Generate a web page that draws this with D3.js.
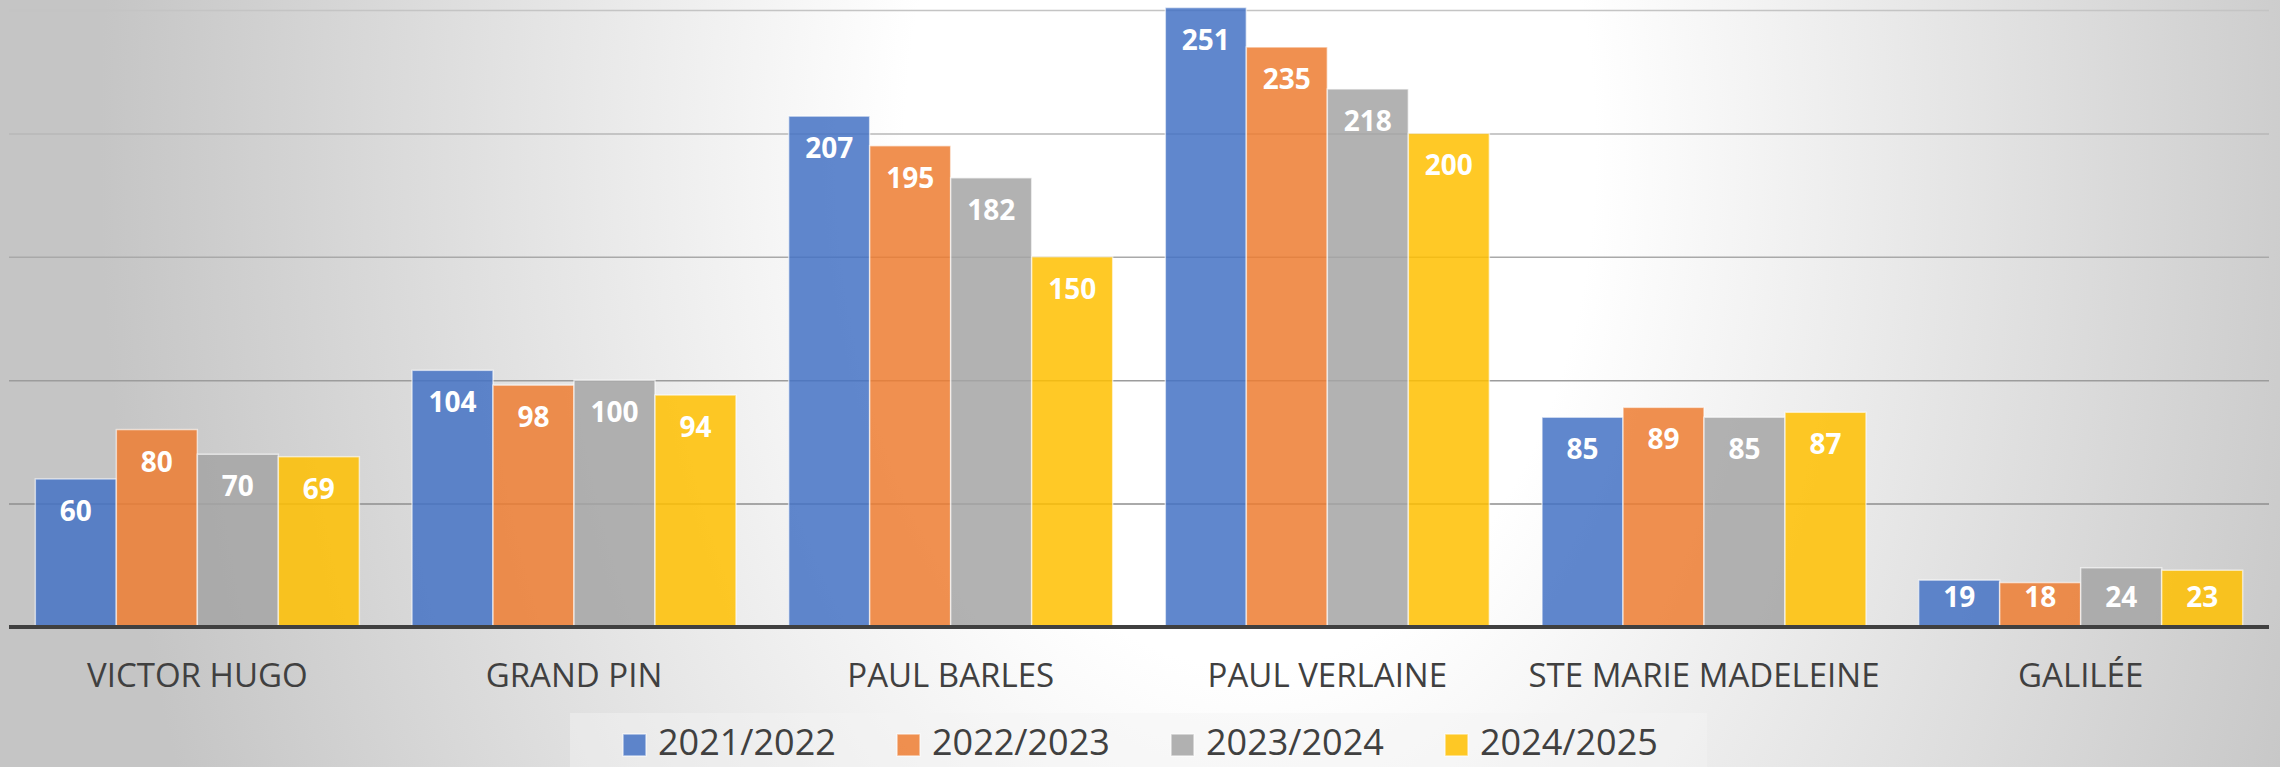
<!DOCTYPE html>
<html>
<head>
<meta charset="utf-8">
<script src="https://cdn.jsdelivr.net/npm/d3@7"></script>
<style>
  body { margin: 0; overflow: hidden; }
  text { font-family: "Open Sans", "Noto Sans", sans-serif; }
</style>
</head>
<body>
<div id="wrapper"></div>
<script>
const categories = ["VICTOR HUGO", "GRAND PIN", "PAUL BARLES", "PAUL VERLAINE", "STE MARIE MADELEINE", "GALILÉE"];
const seriesNames = ["2021/2022", "2022/2023", "2023/2024", "2024/2025"];
const values2122 = [60, 104, 207, 251, 85, 19];
const values2223 = [80, 98, 195, 235, 89, 18];
const values2324 = [70, 100, 182, 218, 85, 24];
const values2425 = [69, 94, 150, 200, 87, 23];
const gridTicks = [50, 100, 150, 200, 250];
const seriesColors = ["#4472C4", "#ED7D31", "#A5A5A5", "#FFC000"];

const seriesValues = [values2122, values2223, values2324, values2425];
const dataset = categories.map((c, i) => ({
  category: c,
  bars: seriesNames.map((s, j) => ({ series: s, value: seriesValues[j][i] }))
}));

function drawChart() {
  let dimensions = {
    width: 2280,
    height: 767,
    margin: { top: 10, right: 11, bottom: 140, left: 9 }
  };
  dimensions.boundedWidth = dimensions.width - dimensions.margin.left - dimensions.margin.right;
  dimensions.boundedHeight = dimensions.height - dimensions.margin.top - dimensions.margin.bottom;

  const wrapper = d3.select("#wrapper")
    .append("svg")
    .attr("width", dimensions.width)
    .attr("height", dimensions.height);

  // background: soft radial light
  const defs = wrapper.append("defs");
  const grad = defs.append("radialGradient")
    .attr("id", "bg")
    .attr("gradientUnits", "userSpaceOnUse")
    .attr("cx", 1250).attr("cy", 150).attr("r", 1150)
    .attr("gradientTransform", "translate(1250,150) scale(1,1.5) translate(-1250,-150)");
  grad.append("stop").attr("offset", "0").attr("stop-color", "#ffffff");
  grad.append("stop").attr("offset", "0.3").attr("stop-color", "#ffffff");
  grad.append("stop").attr("offset", "1").attr("stop-color", "#c5c5c5");
  wrapper.append("rect")
    .attr("width", dimensions.width)
    .attr("height", dimensions.height)
    .attr("fill", "url(#bg)");

  const bounds = wrapper.append("g")
    .attr("transform", `translate(${dimensions.margin.left},${dimensions.margin.top})`);

  const yScale = d3.scaleLinear()
    .domain([0, 250])
    .range([dimensions.boundedHeight, 0]);
  const x0 = d3.scaleBand()
    .domain(categories)
    .range([0, dimensions.boundedWidth])
    .paddingInner(0);
  const x1 = d3.scaleBand()
    .domain(seriesNames)
    .range([0, x0.bandwidth()])
    .paddingOuter(0.325);
  const colorScale = d3.scaleOrdinal().domain(seriesNames).range(seriesColors);
  const gridColor = d3.scaleLinear().domain([250, 50]).range(["#c4c4c4", "#8e8e8e"]);

  // gridlines
  const yAxis = bounds.append("g")
    .call(d3.axisLeft(yScale).tickValues(gridTicks).tickSize(-dimensions.boundedWidth).tickFormat(""));
  yAxis.select(".domain").remove();
  yAxis.selectAll(".tick line")
    .attr("stroke", d => gridColor(d))
    .attr("stroke-width", 1.5);

  // bars
  const groups = bounds.selectAll(".group")
    .data(dataset)
    .enter()
    .append("g")
    .attr("transform", d => `translate(${x0(d.category)},0)`);

  groups.selectAll("rect")
    .data(d => d.bars)
    .enter()
    .append("rect")
    .attr("x", d => x1(d.series))
    .attr("y", d => yScale(d.value))
    .attr("width", x1.bandwidth())
    .attr("height", d => yScale(0) - yScale(d.value))
    .attr("fill", d => colorScale(d.series))
    .attr("fill-opacity", 0.85)
    .attr("stroke", "rgba(255,255,255,0.6)")
    .attr("stroke-width", 1.5);

  // labels sit inside the top of the bar, but never below the bar's bottom
  groups.selectAll(".label")
    .data(d => d.bars)
    .enter()
    .append("text")
    .attr("x", d => x1(d.series) + x1.bandwidth() / 2)
    .attr("y", d => Math.min(yScale(d.value) + 42, yScale(0) - 20))
    .attr("text-anchor", "middle")
    .attr("fill", "white")
    .style("font-size", "28px")
    .style("font-weight", "bold")
    .text(d => d.value);

  // baseline
  bounds.append("line")
    .attr("x1", 0)
    .attr("x2", dimensions.boundedWidth)
    .attr("y1", yScale(0))
    .attr("y2", yScale(0))
    .attr("stroke", "#404040")
    .attr("stroke-width", 4);

  // category labels
  const xAxis = bounds.append("g")
    .attr("transform", `translate(0,${dimensions.boundedHeight})`)
    .call(d3.axisBottom(x0).tickSize(0));
  xAxis.select(".domain").remove();
  xAxis.selectAll(".tick text")
    .attr("y", 60)
    .attr("dy", 0)
    .attr("fill", "#404040")
    .style("font-size", "33px")
    .style("font-family", "'Open Sans', sans-serif");

  // legend
  wrapper.append("rect")
    .attr("x", 570)
    .attr("y", 713)
    .attr("width", 1137)
    .attr("height", 54)
    .attr("fill", "#f4f4f4")
    .attr("opacity", 0.45);

  const legend = wrapper.append("g")
    .attr("transform", "translate(623,734)");
  const items = legend.selectAll("g")
    .data(seriesNames)
    .enter()
    .append("g")
    .attr("transform", (d, i) => `translate(${i * 274},0)`);
  items.append("rect")
    .attr("width", 23)
    .attr("height", 22)
    .attr("fill", d => colorScale(d))
    .attr("fill-opacity", 0.85)
    .attr("stroke", "rgba(255,255,255,0.6)")
    .attr("stroke-width", 1.5);
  items.append("text")
    .attr("x", 35)
    .attr("y", 21)
    .attr("fill", "#404040")
    .style("font-size", "36px")
    .text(d => d);
}

drawChart();
</script>
</body>
</html>
